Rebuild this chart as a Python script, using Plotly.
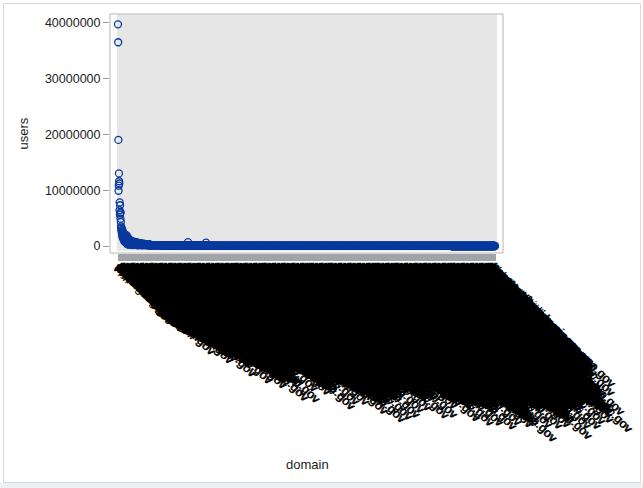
import plotly.graph_objects as go

# ---------------- data ----------------
subs = ["www.", "", "apps.", "data.", "my.", "help.", "search.", "forms.", "portal.", "secure.",
        "maps.", "api.", "login.", "news.", "jobs.", "tools.", "public.", "events.", "stats.", "archive.",
        "learn.", "grants.", "library.", "support.", "reports.", "training.", "go.", "m.", "web.", "info.",
        "services.", "online.", "research.", "records.", "open.", "test.", "dev.", "beta.", "media.", "store.",
        "files.", "docs.", "survey.", "careers.", "kids.", "espanol.", "connect.", "account.", "resourcehub.", "communities."]

agencies = ["nasa", "census", "commerce", "nationalmap", "studentaid.ed", "earthquake.usgs",
            "pubmed.ncbi.nlm", "fishwildlife.fws", "forestservice.fs", "oceanservice.noaa",
            "nationalparks.nps", "veteransaffairs.va", "housingcounsel.hud", "emergencyplans.fema",
            "medicaresupport.cms", "healthresources.hrsa", "foodsafety.fsis.usda", "agriculturaldata.ers",
            "energyefficiency.eere", "workforcesecurity.dol", "justicestatistics.ojp", "patentapplications.pto",
            "immigrationforms.uscis", "researchfunding.grants", "occupationalsafety.osha",
            "childrenandfamilies.acf", "publichealthservice.phs", "hazardousmaterials.phmsa",
            "wildlifeconservation.fws", "infectiousdiseases.niaid", "cybersecurityalerts.cisa",
            "spaceweatherpredict.noaa", "veteransbenefits.vba.va", "agriculturalmarkets.ams",
            "electionassistance.eac", "highwaystatistics.fhwa", "oceanographicdata.nodc",
            "tribalgovernance.bia", "recallsinfo.cpsc", "business.usa"]

domains = [s + a + ".gov" for a in agencies for s in subs]

# users, in thousands, for the leading (highest-traffic) domains
head_users_k = [
    39700, 36500, 19000, 9900, 10800, 13000, 11600, 11200, 6400, 7800, 5600, 7300, 5900, 4900, 6000, 4300, 3500,
    3100, 2800, 3300, 2400, 2600, 1900, 2900, 2200, 1500, 2500, 1700, 2000, 1200, 2300, 1600, 900, 1800, 1400,
    2100, 1100, 1300, 700, 1500, 1000,
    1700, 1200, 600, 1400, 900, 1900, 400, 1100, 800, 1300, 300, 1000, 1500, 700, 500, 1200, 900, 200, 1100,
    600, 800, 400, 1000, 700,
    900, 500, 800, 300, 1000, 600, 400, 750, 200, 850, 550, 350, 700, 450, 150, 650, 800, 300, 500, 600, 250,
    700, 400, 550, 350, 750,
    600, 300, 700, 450, 200, 550, 650, 350, 500, 150, 600, 400, 250, 550, 450, 300, 500, 100, 400, 550, 350,
    250, 450, 300, 500, 200, 400,
    450, 300, 200, 380, 250, 420, 150, 350, 280, 400, 120, 330, 260, 380, 200, 300, 350, 180, 280, 400,
    220, 310, 150, 270, 350, 240, 190, 320, 260, 140, 300, 230, 350, 180, 270, 210, 300, 160, 250, 330,
    200, 120, 280, 230, 170, 310, 260, 90, 220, 290, 180, 240, 150,
]
# long tail (all visually at ~0): (users in thousands, number of domains)
tail_runs_k = [(150, 60), (100, 70), (70, 70), (680, 1), (55, 95), (600, 1), (40, 200),
               (28, 250), (18, 300), (11, 300), (7, 250), (4, 232)]

users = [v * 1000 for v in head_users_k]
for level, count in tail_runs_k:
    users += [level * 1000] * count

n = min(len(users), len(domains))
domains = domains[:n]
users = users[:n]

# ---------------- layout geometry ----------------
W, H = 643, 488
PL, PR, PT, PB = 110, 503, 14, 253  # plot (frame) box in pixels
pw, ph = PR - PL, PB - PT

def xp(px):
    return (px - PL) / pw

def yp(py):
    return (PB - py) / ph

ppc = (495 - 118) / (n - 1)
xr = [-(118 - PL) / ppc, (n - 1) + (PR - 495) / ppc]
ppm = (246 - 22.7) / 40e6
yr = [-(PB - 246) / ppm, 40e6 + (22.7 - PT) / ppm]

FONT = "Liberation Sans, Arial, sans-serif"

fig = go.Figure()
fig.add_trace(go.Scatter(
    x=domains, y=users, mode="markers",
    marker=dict(symbol="circle-open", size=7, color="#0a3a9e", line=dict(width=1.3, color="#0a3a9e")),
    hoverinfo="x+y", showlegend=False,
))

shapes = [
    dict(type="rect", xref="paper", yref="paper", x0=xp(0), x1=xp(W), y0=yp(H), y1=yp(483),
         fillcolor="#eef0f5", line=dict(width=0), layer="below"),
    dict(type="rect", xref="paper", yref="paper", x0=xp(3.5), x1=xp(640.5), y0=yp(482.5), y1=yp(3.5),
         fillcolor="rgba(0,0,0,0)", line=dict(width=1, color="#d6d9e2"), layer="below"),
    dict(type="rect", xref="paper", yref="paper", x0=xp(117), x1=xp(497), y0=yp(251), y1=yp(14.5),
         fillcolor="#e6e6e6", line=dict(width=0), layer="below"),
    dict(type="rect", xref="paper", yref="paper", x0=0, x1=1, y0=0, y1=1,
         fillcolor="rgba(0,0,0,0)", line=dict(width=1, color="#b4b4b4"), layer="below"),
]

fig.update_layout(
    width=W, height=H,
    margin=dict(l=PL, r=W - PR, t=PT, b=H - PB, pad=0),
    template="none",
    paper_bgcolor="white", plot_bgcolor="white",
    font=dict(family=FONT, size=12.5, color="#222"),
    shapes=shapes,
    xaxis=dict(
        type="category", range=xr, tickmode="array", tickvals=domains, ticktext=domains,
        tickangle=45, ticks="outside", ticklen=7, tickwidth=1, tickcolor="#a0a4a8",
        tickfont=dict(family=FONT, size=12.5, color="black"), ticklabelstandoff=-6,
        showgrid=False, zeroline=False, showline=False, automargin=False,
        ticklabeloverflow="allow", fixedrange=True,
    ),
    yaxis=dict(
        range=yr, tickmode="array", tickvals=[0, 10e6, 20e6, 30e6, 40e6], tickformat="d",
        ticks="outside", ticklen=6, tickwidth=1, tickcolor="#9a9a9a",
        tickfont=dict(family=FONT, size=12.5, color="#222"),
        showgrid=False, zeroline=False, showline=False, automargin=False, fixedrange=True,
    ),
    annotations=[
        dict(text="users", xref="paper", yref="paper", x=xp(23), y=yp(133.5), textangle=-90,
             showarrow=False, font=dict(family=FONT, size=13, color="#222"), xanchor="center", yanchor="middle"),
        dict(text="domain", xref="paper", yref="paper", x=xp(307), y=yp(464), showarrow=False,
             font=dict(family=FONT, size=13, color="#222"), xanchor="center", yanchor="middle"),
    ],
    hovermode="closest",
)

fig.write_html("out.html", config={"displayModeBar": False},
               post_script="document.body.style.margin='0';")
